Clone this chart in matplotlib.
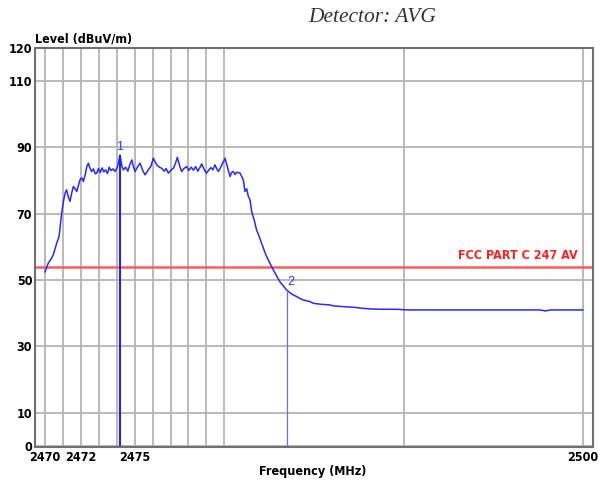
import matplotlib
matplotlib.use("Agg")
import matplotlib.pyplot as plt

# ---- data ----
freq = [2470.0, 2470.18, 2470.3, 2470.46, 2470.65, 2470.78, 2470.93, 2471.02, 2471.12, 2471.2,
        2471.3, 2471.39, 2471.5, 2471.58, 2471.68, 2471.77, 2471.86, 2471.95, 2472.05, 2472.14,
        2472.25, 2472.33, 2472.42, 2472.5, 2472.6, 2472.7, 2472.8, 2472.88, 2472.98, 2473.08,
        2473.18, 2473.28, 2473.38, 2473.48, 2473.58, 2473.68, 2473.8, 2473.9, 2474.05, 2474.18,
        2474.28, 2474.37, 2474.5, 2474.62, 2474.72, 2474.84, 2474.93, 2475.02, 2475.15, 2475.3,
        2475.45, 2475.58, 2475.76, 2475.9, 2476.04, 2476.23, 2476.38, 2476.5, 2476.65, 2476.75,
        2476.88, 2477.0, 2477.16, 2477.28, 2477.38, 2477.5, 2477.62, 2477.75, 2477.9, 2478.02,
        2478.15, 2478.28, 2478.4, 2478.52, 2478.64, 2478.74, 2478.86, 2479.0, 2479.12, 2479.25,
        2479.36, 2479.48, 2479.58, 2479.67, 2479.8, 2479.93, 2480.04, 2480.18, 2480.32, 2480.42,
        2480.5, 2480.6, 2480.7, 2480.88, 2481.06, 2481.15, 2481.25, 2481.34, 2481.43, 2481.53,
        2481.67, 2481.8, 2481.94, 2482.08, 2482.22, 2482.36, 2482.55, 2482.73, 2482.92, 2483.1,
        2483.3, 2483.48, 2483.75, 2484.04, 2484.2, 2484.4, 2484.78, 2484.96, 2485.4, 2485.9,
        2486.08, 2486.6, 2487.2, 2487.7, 2488.13, 2488.8, 2489.6, 2490.2, 2491.5, 2493.0,
        2494.5, 2496.0, 2497.6, 2497.9, 2498.2, 2499.0, 2500.0]
level = [52.5, 55.1, 56.0, 57.6, 61.1, 63.1, 70.2, 73.5, 76.2, 77.2,
         75.0, 73.7, 76.5, 78.2, 77.5, 76.7, 78.5, 80.2, 80.8, 79.7,
         82.0, 84.2, 85.2, 83.8, 82.7, 83.5, 82.0, 82.2, 83.6, 82.4,
         83.8, 82.6, 83.2, 82.1, 84.0, 83.0, 83.5, 82.7, 84.2, 87.7,
         84.5, 83.2, 84.0, 82.8, 84.6, 86.2, 84.2, 82.7, 84.0, 85.2,
         83.0, 81.7, 83.2, 84.2, 86.7, 84.7, 84.0, 83.7, 82.8, 83.6,
         82.2, 83.0, 83.7, 85.2, 87.0, 84.6, 82.7, 83.6, 84.2, 83.0,
         84.0, 83.1, 84.2, 82.8, 83.9, 85.0, 83.5, 82.2, 83.0, 83.9,
         83.2, 84.7, 83.5, 82.7, 84.0, 85.5, 86.7, 84.0, 81.2, 82.5,
         82.7, 81.8, 82.5, 82.2, 80.2, 76.7, 77.5, 75.2, 74.2, 70.6,
         68.0, 65.1, 63.2, 61.1, 59.0, 57.1, 55.0, 53.1, 51.2, 49.5,
         48.2, 47.0, 45.8, 45.0, 44.5, 44.0, 43.5, 43.0, 42.7, 42.5,
         42.2, 42.0, 41.8, 41.5, 41.3, 41.2, 41.2, 41.0, 41.0, 41.0,
         41.0, 41.0, 41.0, 40.7, 41.0, 41.0, 41.0]

limit_level = 54.0
limit_label = "FCC PART C 247 AV"
marker_freq = [2474.18, 2483.5]
marker_level = [87.7, 47.0]
marker_names = ["1", "2"]

xticks = [2470, 2472, 2475, 2500]
yticks = [0, 10, 30, 50, 70, 90, 110, 120]
xgrid = [2470, 2471, 2472, 2473, 2474, 2475, 2476, 2477, 2478, 2479, 2480, 2490, 2500]
ygrid = [0, 10, 30, 50, 70, 90, 110, 120]

W, H = 603, 484
fig = plt.figure(figsize=(W / 100, H / 100), dpi=100)
left, right, top, bottom = 35, 592.7, 47.7, 446.7
ax = fig.add_axes([left / W, 1 - bottom / H, (right - left) / W, (bottom - top) / H])

lblfont = dict(family=["DejaVu Sans"], fontweight="bold", fontstretch="condensed")

ax.set_xlim(2469.44, 2500.55)
ax.set_ylim(-0.2, 120)

for g in xgrid:
    ax.axvline(g, color="#b4b4b4", lw=1.3, zorder=1)
for g in ygrid:
    ax.axhline(g, color="#b4b4b4", lw=1.3, zorder=1)

ax.axhline(limit_level, color="#ff5a5a", lw=1.8, zorder=2)
ax.text(2499.7, limit_level + 1.5, limit_label, color="#ff2020", ha="right", va="bottom",
        fontsize=9, **lblfont)

ax.plot(freq, level, color="#2828ff", lw=1.1, zorder=3)

ax.vlines(marker_freq[0], 0, marker_level[0], color="#2020ff", lw=1.5, zorder=3)
ax.vlines(marker_freq[1], 0, marker_level[1], color="#6a6aff", lw=0.9, zorder=3)
ax.text(marker_freq[0], marker_level[0] + 0.6, marker_names[0], color="#3030ff", ha="center",
        va="bottom", fontsize=9, family=["Liberation Sans", "DejaVu Sans"])
ax.text(marker_freq[1], marker_level[1] + 0.6, marker_names[1], color="#3030ff", ha="left",
        va="bottom", fontsize=9, family=["Liberation Sans", "DejaVu Sans"])

ax.set_xticks(xticks)
ax.set_xticklabels([str(t) for t in xticks])
ax.set_yticks(yticks)
ax.set_yticklabels([str(t) for t in yticks])
ax.tick_params(length=0, pad=3, labelsize=9)
for lab in ax.get_xticklabels() + ax.get_yticklabels():
    lab.set_fontfamily(lblfont["family"])
    lab.set_fontweight("bold")
    lab.set_fontstretch("condensed")
ax.tick_params(axis="y", pad=2)

for s in ax.spines.values():
    s.set_color("#707070")
    s.set_linewidth(1.5)

fig.text(313 / W, 1 - 472 / H, "Frequency (MHz)", ha="center", va="center", fontsize=9, **lblfont)
fig.text(35 / W, 1 - 39 / H, "Level (dBuV/m)", ha="left", va="center", fontsize=9, **lblfont)
fig.text(308 / W, 1 - 18 / H, "Detector: AVG", ha="left", va="center", fontsize=15.5,
         family=["Liberation Serif", "DejaVu Serif"], style="italic", color="#333333")

fig.savefig("out.png", dpi=100)
